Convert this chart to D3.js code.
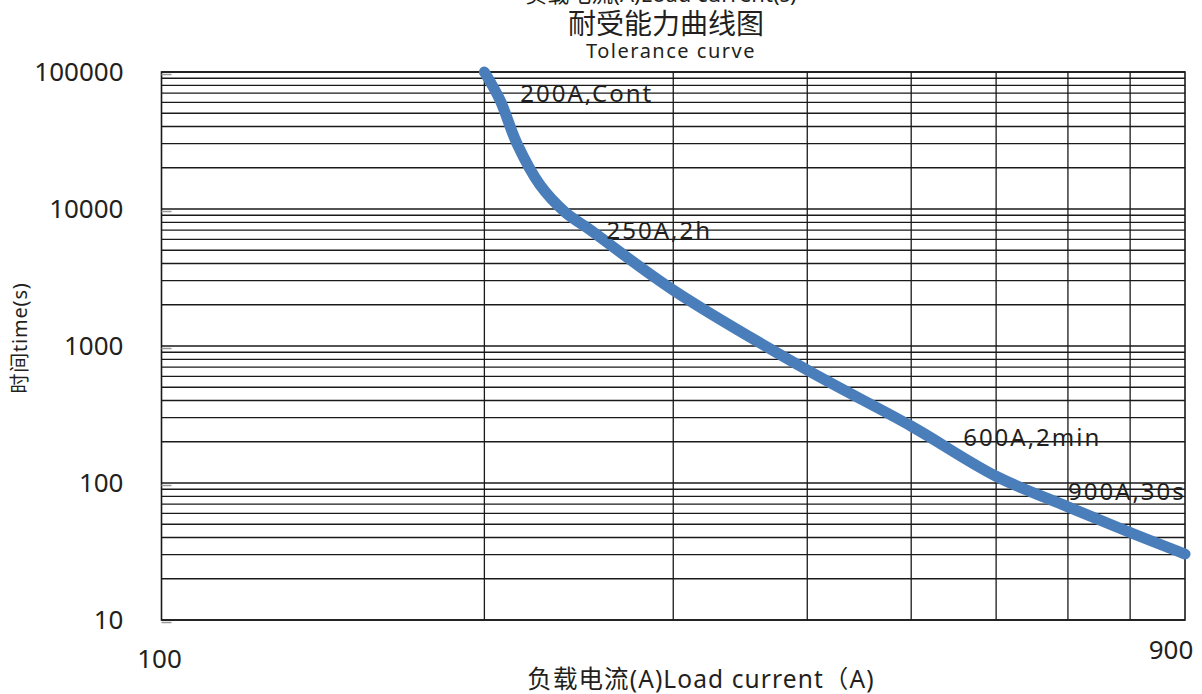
<!DOCTYPE html>
<html>
<head>
<meta charset="utf-8">
<script src="https://cdn.jsdelivr.net/npm/d3@7"></script>
<style>
  body { margin: 0; background: #fff; }
  text { font-family: "Noto Sans", "Noto Sans CJK SC", sans-serif; fill: #231f20; }
</style>
</head>
<body>
<svg id="chart" width="1202" height="694"></svg>
<script>
// curve: load current (A) vs. time (s)
const currents = [200, 206.8, 214.5, 225.4, 237.8, 250, 300, 400, 500, 600, 700, 800, 900];
const times = [100000, 62500, 30000, 14960, 9500, 7200, 2560, 668, 260, 112, 67, 43.5, 30.3];

const yTicks = [10, 100, 1000, 10000, 100000];
const xTicks = [100, 900];
const xGrid = [200, 300, 400, 500, 600, 700, 800];

const notes = [
  { text: "200A,Cont", current: 216, time: 60400 },
  { text: "250A,2h", current: 260, time: 6040 },
  { text: "600A,2min", current: 559, time: 187 },
  { text: "900A,30s", current: 700, time: 75 }
];

const width = 1202, height = 694;
const marginLeft = 161.5, marginRight = 17, marginTop = 72, marginBottom = 74;

const svg = d3.select("#chart");

const xScale = d3.scaleLog().domain([100, 900]).range([marginLeft, width - marginRight]);
const yScale = d3.scaleLog().domain([10, 100000]).range([height - marginBottom, marginTop]);

// minor grid values per decade
const yGrid = [];
yTicks.slice(0, -1).forEach(d => { for (let k = 1; k < 10; k++) yGrid.push(d * k); });
yGrid.push(100000);

const grid = svg.append("g").attr("stroke", "#1a1a1a").attr("stroke-width", 1.3);
grid.selectAll("line.h").data(yGrid).join("line")
  .attr("class", "h")
  .attr("x1", xScale(100)).attr("x2", xScale(900))
  .attr("y1", d => yScale(d)).attr("y2", d => yScale(d));
grid.selectAll("line.v").data(xGrid).join("line")
  .attr("class", "v")
  .attr("y1", yScale(10)).attr("y2", yScale(100000))
  .attr("x1", d => xScale(d)).attr("x2", d => xScale(d));
grid.append("rect")
  .attr("x", xScale(100)).attr("y", yScale(100000))
  .attr("width", xScale(900) - xScale(100))
  .attr("height", yScale(10) - yScale(100000))
  .attr("fill", "none").attr("stroke-width", 1.6);

// faint inner ticks on the decades
const yAxisTicks = svg.append("g")
  .attr("transform", `translate(${xScale(100)},2)`)
  .call(d3.axisRight(yScale).tickValues(yTicks).tickSize(10).tickFormat(""));
yAxisTicks.select(".domain").remove();
yAxisTicks.selectAll("line").attr("stroke", "#999").attr("stroke-width", 1.5);

// y tick labels
const yAxis = svg.append("g")
  .attr("transform", `translate(${xScale(100)},0)`)
  .call(d3.axisLeft(yScale).tickValues(yTicks).tickSize(0).tickPadding(38).tickFormat(d3.format("d")));
yAxis.select(".domain").remove();
yAxis.selectAll("text").attr("font-size", 26).style("font-family", "Noto Sans").attr("fill", "#231f20");

// x tick labels (placed as in the original)
svg.selectAll("text.xt").data(xTicks).join("text")
  .attr("class", "xt")
  .attr("x", d => d === 100 ? xScale(d) - 2 : xScale(d) - 14)
  .attr("y", d => d === 100 ? 668 : 659)
  .attr("text-anchor", "middle")
  .attr("font-size", 26)
  .text(d => d);

// curve
const line = d3.line()
  .x((d, i) => xScale(currents[i]))
  .y((d, i) => yScale(times[i]))
  .curve(d3.curveCatmullRom.alpha(0.5));
svg.append("path")
  .datum(currents)
  .attr("d", line)
  .attr("fill", "none")
  .attr("stroke", "#4a7ebb")
  .attr("stroke-width", 11)
  .attr("stroke-linecap", "round")
  .attr("stroke-linejoin", "round");

// annotations
svg.selectAll("text.note").data(notes).join("text")
  .attr("class", "note")
  .attr("x", d => xScale(d.current))
  .attr("y", d => yScale(d.time))
  .attr("font-size", 24)
  .attr("letter-spacing", 2)
  .text(d => d.text);

// titles (the first one is clipped by the page edge)
svg.append("text").attr("x", 661).attr("y", 2).attr("text-anchor", "middle")
  .attr("font-size", 22).text("负载电流(A)Load current(s)");
svg.append("text").attr("x", 666).attr("y", 34).attr("text-anchor", "middle")
  .attr("font-size", 28).text("耐受能力曲线图");
svg.append("text").attr("x", 671).attr("y", 58).attr("text-anchor", "middle")
  .attr("font-size", 20).attr("letter-spacing", 1.5).text("Tolerance curve");

// axis titles
svg.append("text").attr("x", 701).attr("y", 688).attr("text-anchor", "middle")
  .attr("font-size", 24.5).attr("letter-spacing", 1.1).text("负载电流(A)Load current（A)");
svg.append("text").attr("transform", "translate(27,338) rotate(-90)")
  .attr("text-anchor", "middle").attr("font-size", 20).attr("letter-spacing", 0.8)
  .text("时间time(s)");
</script>
</body>
</html>
